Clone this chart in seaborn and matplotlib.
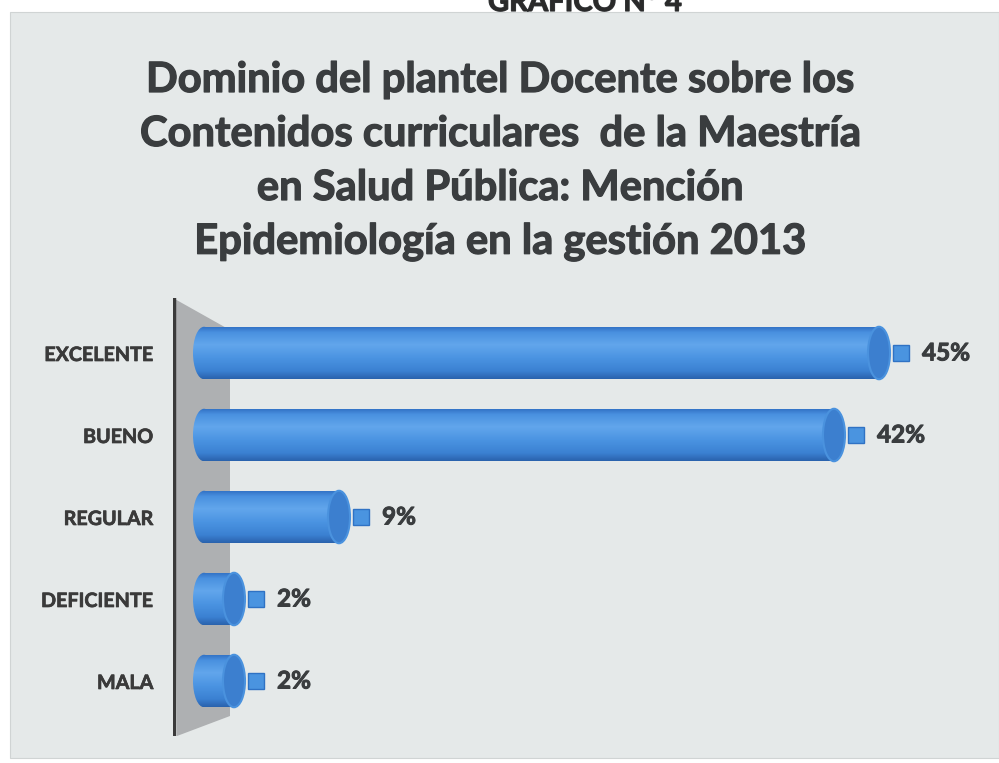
import numpy as np
import matplotlib
matplotlib.use("Agg")
import matplotlib.pyplot as plt
from matplotlib.patches import Rectangle, Ellipse, Polygon
from matplotlib.colors import LinearSegmentedColormap
import matplotlib.patheffects as pe
import seaborn as sns
import pandas as pd

# Data
categorias = ["EXCELENTE", "BUENO", "REGULAR", "DEFICIENTE", "MALA"]
porcentajes = [45, 42, 9, 2, 2]
etiquetas = ["45%", "42%", "9%", "2%", "2%"]

titulo = ["Dominio del plantel Docente sobre los",
          "Contenidos curriculares  de la Maestría",
          "en Salud Pública: Mención",
          "Epidemiología en la gestión 2013"]
encabezado = "GRAFICO N° 4"

sns.set_theme(style="white")
plt.rcParams["font.family"] = ["Lato", "DejaVu Sans"]

W, H = 999, 763
fig = plt.figure(figsize=(W / 100, H / 100), dpi=100)
fig.patch.set_facecolor("white")

# light panel behind the chart
bg = fig.add_axes([0, 0, 1, 1], zorder=-10)
bg.set_xlim(0, W)
bg.set_ylim(H, 0)
bg.axis("off")
bg.add_patch(Rectangle((10, 12), W - 10, 746, facecolor="#e5e9e9",
                       edgecolor="#d0d4d4", lw=0.8))

thick = [pe.withStroke(linewidth=0.9, foreground="#3a3d3f")]

# heading (runs past the top edge of the page)
fig.text(585 / W, 1 - 11 / H, encabezado, ha="center", va="baseline",
         fontsize=21, fontweight="bold", color="#2a2a2a", path_effects=thick)

# title lines
for txt, yc in zip(titulo, [80, 134, 188, 242]):
    fig.text(500 / W, 1 - yc / H, txt, ha="center", va="center",
             fontsize=30, fontweight="bold", color="#3a3d3f", path_effects=thick)

# plot axes: x in percent, 15 px per unit; 0 at pixel 204
px_per = 15.0
ax_l, ax_r, ax_t, ax_b = 173, 985, 298, 736
x0 = -(204 - ax_l) / px_per
x1 = x0 + (ax_r - ax_l) / px_per
sp = 82.0
y_top = -(353 - ax_t) / sp
y_bot = 4 + (ax_b - 681) / sp

ax = fig.add_axes([ax_l / W, 1 - ax_b / H, (ax_r - ax_l) / W, (ax_b - ax_t) / H])
ax.patch.set_alpha(0)

df = pd.DataFrame({"categoria": categorias, "porcentaje": porcentajes})
bar_h = 0.64
sns.barplot(data=df, x="porcentaje", y="categoria", orient="h", ax=ax,
            color="#4a92de", width=bar_h, saturation=1, zorder=3)

ax.set_xlim(x0, x1)
ax.set_ylim(y_bot, y_top)
ax.set_xlabel("")
ax.set_ylabel("")
ax.set_xticks([])
ax.tick_params(axis="y", length=0, pad=14)
for lbl in ax.get_yticklabels():
    lbl.set_fontweight("bold")
    lbl.set_fontsize(14.2)
    lbl.set_color("#3a3a3a")
    lbl.set_path_effects([pe.withStroke(linewidth=0.5, foreground="#3a3a3a")])
for s in ax.spines.values():
    s.set_visible(False)

# back wall of the 3D frame
wall_x = x0 + (230 - ax_l) / px_per
wall = Polygon([(x0, y_top), (wall_x, y_top + 32 / sp), (wall_x, y_bot - 20 / sp),
                (x0 + 4 / px_per, y_bot)], closed=True,
               facecolor="#aeb0b2", edgecolor="none", zorder=1)
ax.add_patch(wall)
ax.plot([x0 + 1 / px_per, x0 + 1 / px_per], [y_top, y_bot], color="#3a3a3a",
        lw=3.2, zorder=2, solid_capstyle="butt")

# cylinder shading
cyl = LinearSegmentedColormap.from_list(
    "cyl", [(0.0, "#2f6ec2"), (0.12, "#4a91e0"), (0.35, "#62a6ec"),
            (0.6, "#4b94e2"), (0.85, "#3b81d2"), (1.0, "#2a62ad")])
grad = np.linspace(0, 1, 128).reshape(-1, 1)
ew = 22 / px_per

for patch, lab in zip(ax.patches[:len(categorias)], etiquetas):
    bx, by = patch.get_x(), patch.get_y()
    bw, bh = patch.get_width(), patch.get_height()
    patch.set_alpha(0)
    yc = by + bh / 2
    # body + rounded left end
    for clip in (Rectangle((bx, by), bw, bh, transform=ax.transData),
                 Ellipse((bx, yc), ew, bh, transform=ax.transData)):
        im = ax.imshow(grad, cmap=cyl, aspect="auto", zorder=3,
                       extent=[bx - ew / 2, bx + bw, by + bh, by],
                       interpolation="bilinear")
        im.set_clip_path(clip)
    # right end face
    ax.add_patch(Ellipse((bx + bw, yc), ew, bh, facecolor="#3c7fcf",
                         edgecolor="#4a92de", lw=1.5, zorder=4))
    # value label with legend key
    end_px = bw * px_per + 11
    sq_x = bx + (end_px + 3) / px_per
    sq = 16 / px_per
    sq_h = 16 / sp
    ax.add_patch(Rectangle((sq_x, yc - sq_h / 2), sq, sq_h, facecolor="#4a94e0",
                           edgecolor="#2f72c4", lw=1.0, zorder=5))
    ax.text(sq_x + sq + 13 / px_per, yc, lab, ha="left", va="center",
            fontsize=17.5, fontweight="bold", color="#3a3d3f", zorder=5,
            path_effects=[pe.withStroke(linewidth=0.7, foreground="#3a3d3f")])

ax.set_xlim(x0, x1)
ax.set_ylim(y_bot, y_top)

fig.savefig("out.png", dpi=100, facecolor="white")
